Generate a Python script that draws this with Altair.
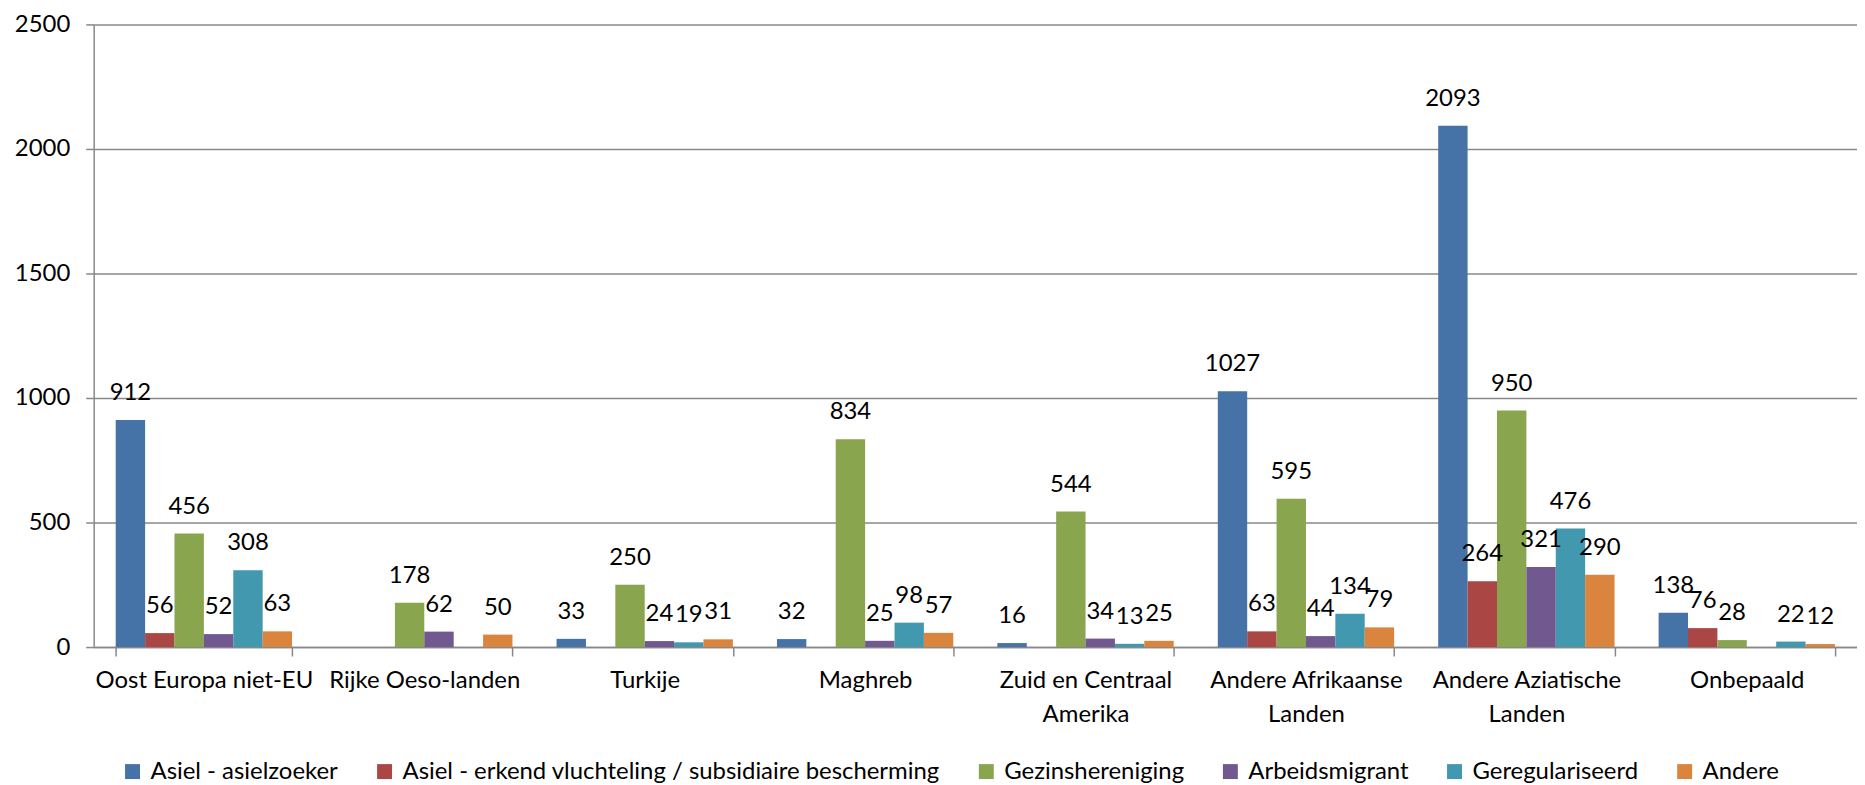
import altair as alt
import pandas as pd

regions = [
    "Oost Europa niet-EU",
    "Rijke Oeso-landen",
    "Turkije",
    "Maghreb",
    "Zuid en Centraal Amerika",
    "Andere Afrikaanse Landen",
    "Andere Aziatische Landen",
    "Onbepaald",
]
# two-line axis labels
label_lines = {
    "Zuid en Centraal Amerika": ["Zuid en Centraal", "Amerika"],
    "Andere Afrikaanse Landen": ["Andere Afrikaanse", "Landen"],
    "Andere Aziatische Landen": ["Andere Aziatische", "Landen"],
}

types = [
    "Asiel - asielzoeker",
    "Asiel - erkend vluchteling / subsidiaire bescherming",
    "Gezinshereniging",
    "Arbeidsmigrant",
    "Geregulariseerd",
    "Andere",
]
colors = ["#4572A7", "#AA4643", "#89A54E", "#71588F", "#4198AF", "#DB843D"]

asielzoeker = [912, None, 33, 32, 16, 1027, 2093, 138]
erkend = [56, None, None, None, None, 63, 264, 76]
gezinshereniging = [456, 178, 250, 834, 544, 595, 950, 28]
arbeidsmigrant = [52, 62, 24, 25, 34, 44, 321, None]
geregulariseerd = [308, None, 19, 98, 13, 134, 476, 22]
andere = [63, 50, 31, 57, 25, 79, 290, 12]

series = [asielzoeker, erkend, gezinshereniging, arbeidsmigrant, geregulariseerd, andere]

rows = []
for t, vals in zip(types, series):
    for r, v in zip(regions, vals):
        if v is not None:
            rows.append({"region": r, "type": t, "value": v})
df = pd.DataFrame(rows)

FONT = "Lato"
FS = 24
GRID = "#888888"

expr_parts = []
for k, lines in label_lines.items():
    arr = "[" + ", ".join("'" + s + "'" for s in lines) + "]"
    expr_parts.append(f"datum.value == '{k}' ? {arr} : ")
label_expr = "".join(expr_parts) + "datum.value"

x = alt.X(
    "region:N",
    sort=regions,
    scale=alt.Scale(paddingInner=0.2, paddingOuter=0.1),
    axis=alt.Axis(
        title=None,
        labelAngle=0,
        labelExpr=label_expr,
        labelFont=FONT,
        labelFontSize=FS,
        labelColor="black",
        labelPadding=13,
        labelLineHeight=34,
        labelBaseline="top",
        tickBand="extent",
        tickSize=9,
        tickColor=GRID,
        tickWidth=1.5,
        domainColor=GRID,
        domainWidth=1.5,
        grid=False,
        labelLimit=400,
    ),
)
xo = alt.XOffset("type:N", sort=types)
y = alt.Y(
    "value:Q",
    scale=alt.Scale(domain=[0, 2500], nice=False),
    axis=alt.Axis(
        title=None,
        values=[0, 500, 1000, 1500, 2000, 2500],
        format="d",
        labelFont=FONT,
        labelFontSize=FS,
        labelColor="black",
        labelPadding=16,
        tickSize=8,
        tickColor=GRID,
        tickWidth=1.5,
        domainColor=GRID,
        domainWidth=1.5,
        grid=True,
        gridColor=GRID,
        gridWidth=1.5,
    ),
)

bars = alt.Chart(df).mark_bar().encode(
    x=x,
    xOffset=xo,
    y=y,
    color=alt.Color(
        "type:N",
        sort=types,
        scale=alt.Scale(domain=types, range=colors),
        legend=alt.Legend(
            title=None,
            orient="none",
            direction="horizontal",
            columns=6,
            legendX=27,
            legendY=738,
            symbolType="square",
            symbolSize=225,
            symbolStrokeWidth=0,
            symbolOpacity=1,
            labelFont=FONT,
            labelFontSize=FS,
            labelColor="black",
            labelOffset=6,
            labelLimit=1000,
            columnPadding=34,
        ),
    ),
)

labels = alt.Chart(df).mark_text(
    font=FONT, fontSize=FS, color="black", baseline="middle", align="center", dy=-27
).encode(
    x=alt.X("region:N", sort=regions),
    xOffset=xo,
    y="value:Q",
    text="value:Q",
)

chart = (
    alt.layer(bars, labels)
    .properties(width=1770, height=625, padding={"left": 6, "top": 3, "right": 0, "bottom": 0})
    .configure_view(stroke=None)
)

chart.save("out.html", embed_options={"renderer": "svg", "actions": False})
